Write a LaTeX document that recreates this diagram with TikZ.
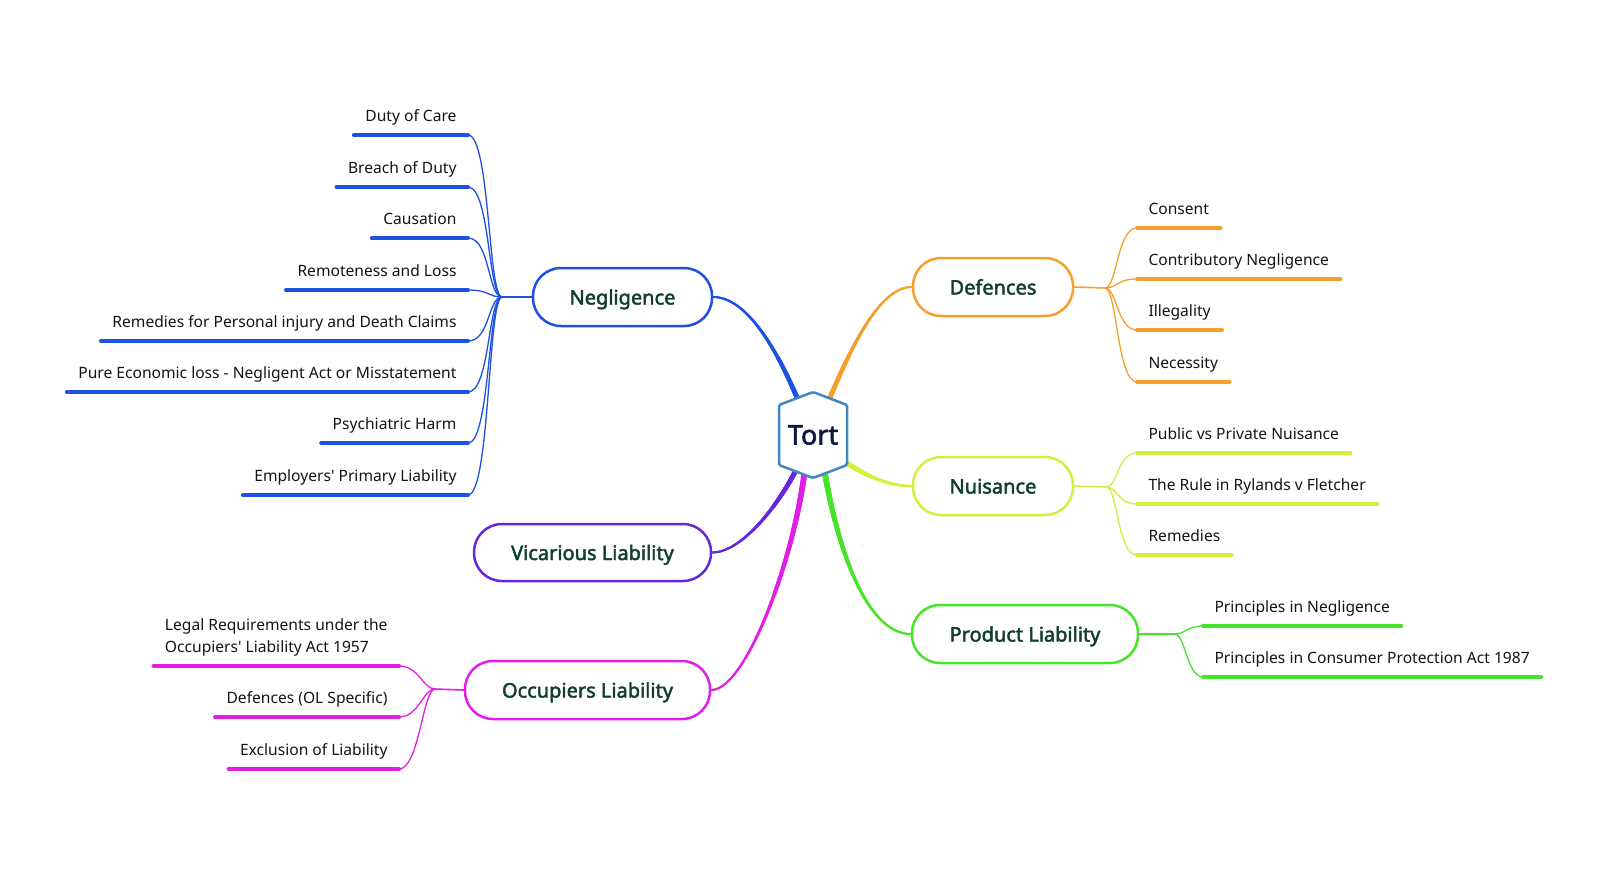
\documentclass[tikz,border=0pt]{standalone}
\usepackage{fontspec}
\setmainfont{Noto Sans}[AutoFakeBold=2.2, Ligatures=TeXOff]
\usetikzlibrary{decorations.markings}
\definecolor{cneg}{RGB}{30,80,225}
\definecolor{cdef}{RGB}{245,160,45}
\definecolor{cnui}{RGB}{212,240,60}
\definecolor{cpro}{RGB}{70,228,40}
\definecolor{cvic}{RGB}{100,40,220}
\definecolor{cocc}{RGB}{225,30,230}
\definecolor{chex}{RGB}{65,135,195}
\definecolor{boxtext}{RGB}{18,62,45}
\definecolor{tortc}{RGB}{12,25,62}
\definecolor{leafc}{RGB}{20,20,20}
\newcommand\leaffont{\fontsize{15.6}{22}\selectfont}
\newcommand\boxfont{\bfseries\fontsize{20}{24}\selectfont}
\newcommand\tortfont{\bfseries\fontsize{27}{30}\selectfont}
\tikzset{
  mainbox/.style={draw=#1, line width=2.5pt, rounded corners=28pt, minimum height=58pt,
    fill=white, font=\boxfont, text=boxtext, inner sep=0pt, text height=19pt, text depth=4pt},
  leaf/.style={font=\leaffont, text=leafc, inner xsep=11.5pt, inner ysep=10pt,
    text height=11pt, text depth=4pt, outer sep=0pt},
  ul/.style={draw=#1, line width=4pt, line cap=round},
  twig/.style={draw=#1, line width=1.3pt},
  stem/.style={draw=#1, line width=1.6pt},
  taper/.style n args={3}{draw=#1, line width=#3pt,
    postaction={decorate, decoration={markings,
      mark=between positions 0 and 1 step 0.004 with {
        \pgfmathsetmacro\tprad{(#2+(#3-#2)*\pgfkeysvalueof{/pgf/decoration/mark info/sequence number}/251)/2}
        \fill[#1] (0,0) circle[radius=\tprad pt];
      }}}}
}
\begin{document}
\begin{tikzpicture}[x=1pt,y=-1pt]
\path[use as bounding box, fill=white] (0,0) rectangle (1600,871);

% main boxes
\node[mainbox=cneg, minimum width=179pt] (neg) at (622.5,297) {Negligence};
\node[mainbox=cdef, minimum width=160pt] (def) at (993,287) {Defences};
\node[mainbox=cnui, minimum width=160pt] (nui) at (993,486) {Nuisance};
\node[mainbox=cpro, minimum width=226pt] (pro) at (1025,634) {Product Liability};
\node[mainbox=cvic, minimum width=237pt, minimum height=57pt] (vic) at (592.5,552.5) {Vicarious Liability};
\node[mainbox=cocc, minimum width=245pt] (occ) at (587.5,690) {Occupiers Liability};

% hexagon start points
\coordinate (s-neg) at (798,400);
\coordinate (s-def) at (829,400);
\coordinate (s-nui) at (845,462);
\coordinate (s-pro) at (825,474);
\coordinate (s-vic) at (795,472);
\coordinate (s-occ) at (804,476);

% main connectors
\path[taper={cneg}{5}{2}] (s-neg) .. controls (775,345) and (745,297) .. (neg.east);
\path[taper={cdef}{5}{2}] (s-def) .. controls (852,345) and (880,287) .. (def.west);
\path[taper={cnui}{5}{2}] (s-nui) .. controls (870,478) and (890,486) .. (nui.west);
\path[taper={cpro}{6}{2}] (s-pro) .. controls (840,560) and (870,634) .. (pro.west);
\path[taper={cvic}{5}{2}] (s-vic) .. controls (775,510) and (740,552.5) .. (vic.east);
\path[taper={cocc}{6}{2}] (s-occ) .. controls (792,565) and (745,690) .. (occ.east);

% central hexagon
\draw[draw=chex, line width=2.5pt, fill=white, rounded corners=1.5pt]
  (813,392) -- (847,405) -- (847,465) -- (813,478) -- (779,465) -- (779,405) -- cycle;
\node[font=\tortfont, text=tortc] (tort) at (813,435) {Tort};

% junctions
\coordinate (jneg) at (502,297);
\coordinate (jdef) at (1105,288);
\coordinate (jnui) at (1106,487);
\coordinate (jpro) at (1175,634);
\coordinate (jocc) at (435,689);
\draw[stem=cneg] (neg.west) -- (jneg);
\draw[stem=cdef] (def.east) -- (jdef);
\draw[stem=cnui] (nui.east) -- (jnui);
\draw[stem=cpro] (pro.east) -- (jpro);
\draw[stem=cocc] (occ.west) -- (jocc);

% Negligence leaves
\foreach \i/\y/\t in {1/135/Duty of Care, 2/187/Breach of Duty, 3/238/Causation,
  4/290/Remoteness and Loss, 5/341/Remedies for Personal injury and Death Claims,
  6/392/Pure Economic loss - Negligent Act or Misstatement, 7/443/Psychiatric Harm,
  8/495/Employers' Primary Liability}{
  \node[leaf, anchor=south east] (n\i) at (468,\y) {\t};
  \draw[ul=cneg] (n\i.south west) -- (n\i.south east);
  \draw[twig=cneg] (jneg) .. controls +(-14,0) and +(22,0) .. (n\i.south east);
}

% Defences leaves
\foreach \i/\y/\t in {1/228/Consent, 2/279/Contributory Negligence, 3/330/Illegality, 4/382/Necessity}{
  \node[leaf, anchor=south west] (d\i) at (1137,\y) {\t};
  \draw[ul=cdef] (d\i.south west) -- (d\i.south east);
  \draw[twig=cdef] (jdef) .. controls +(12,0) and +(-20,0) .. (d\i.south west);
}

% Nuisance leaves
\foreach \i/\y/\t in {1/453/Public vs Private Nuisance, 2/504/The Rule in Rylands v Fletcher, 3/555/Remedies}{
  \node[leaf, anchor=south west] (u\i) at (1137,\y) {\t};
  \draw[ul=cnui] (u\i.south west) -- (u\i.south east);
  \draw[twig=cnui] (jnui) .. controls +(12,0) and +(-20,0) .. (u\i.south west);
}

% Product Liability leaves
\foreach \i/\y/\t in {1/626/Principles in Negligence, 2/677/Principles in Consumer Protection Act 1987}{
  \node[leaf, anchor=south west] (p\i) at (1203,\y) {\t};
  \draw[ul=cpro] (p\i.south west) -- (p\i.south east);
  \draw[twig=cpro] (jpro) .. controls +(10,0) and +(-16,0) .. (p\i.south west);
}

% Occupiers leaves
\node[leaf, anchor=south east, align=left] (o1) at (399,666) {Legal Requirements under the\\Occupiers' Liability Act 1957};
\node[leaf, anchor=south east] (o2) at (399,717) {Defences (OL Specific)};
\node[leaf, anchor=south east] (o3) at (399,769) {Exclusion of Liability};
\foreach \i in {1,2,3}{
  \draw[ul=cocc] (o\i.south west) -- (o\i.south east);
  \draw[twig=cocc] (jocc) .. controls +(-12,0) and +(20,0) .. (o\i.south east);
}
\end{tikzpicture}
\end{document}
